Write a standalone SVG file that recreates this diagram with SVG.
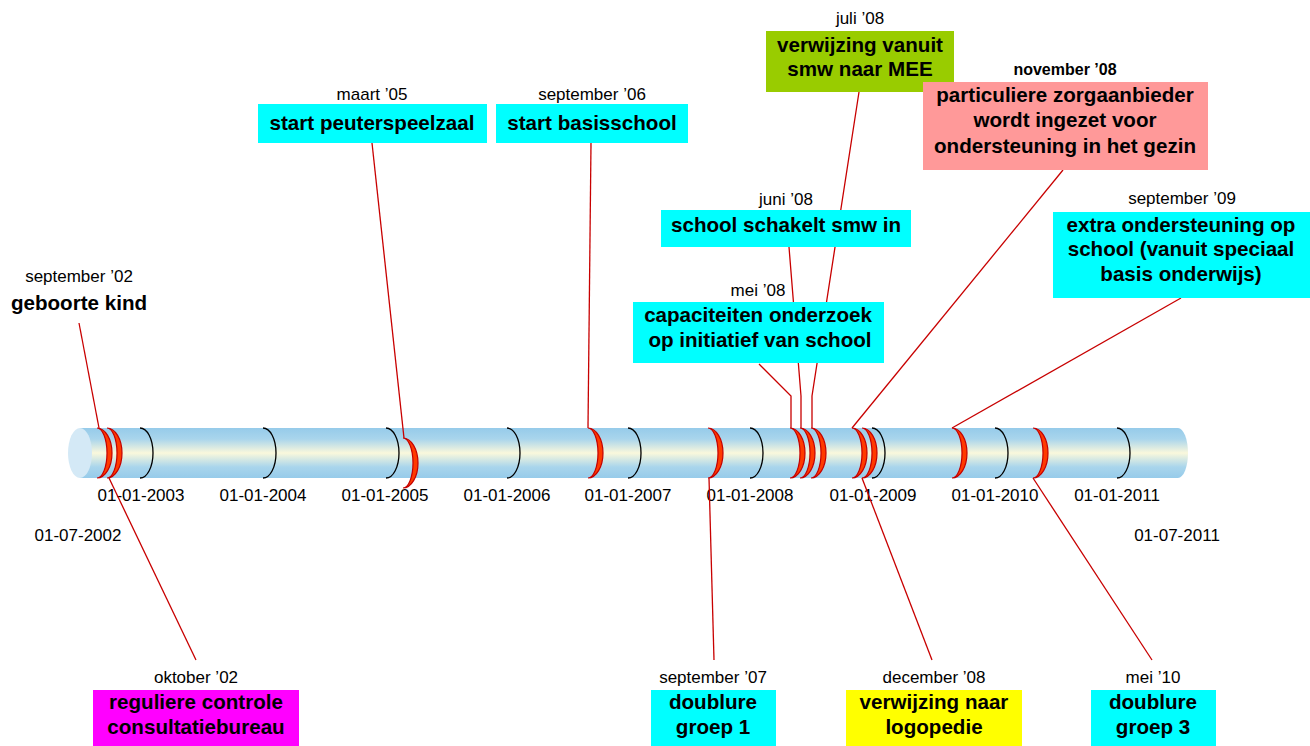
<svg xmlns="http://www.w3.org/2000/svg" xmlns:xlink="http://www.w3.org/1999/xlink" width="1310" height="746" viewBox="0 0 1310 746">
<style>
text{font-family:"Liberation Sans",Arial,sans-serif;fill:#000}
.date{font-size:17px;text-anchor:middle}
.axis{font-size:17px;text-anchor:middle}
.lbl{font-size:20.6px;font-weight:bold;text-anchor:middle}
.conn{stroke:#c80000;stroke-width:1.3;fill:none}
.ring{fill:#ff3a00;stroke:#c40000;stroke-width:1.2}
.tick{fill:none;stroke:#000;stroke-width:1.3}
.cyan{fill:#00ffff}
</style>
<defs>
<linearGradient id="body" x1="0" y1="0" x2="0" y2="1">
<stop offset="0" stop-color="#96cbea"/>
<stop offset="0.22" stop-color="#a9d5ec"/>
<stop offset="0.5" stop-color="#faf8dc"/>
<stop offset="0.78" stop-color="#a9d5ec"/>
<stop offset="1" stop-color="#96cbea"/>
</linearGradient>
<path id="redring" class="ring" d="M0,0 A15 25 0 0 1 0 50 A10 25 0 0 0 0 0 Z"/>
<path id="blackarc" class="tick" d="M0,0 A13 25 0 0 1 0 50"/>
</defs>

<g id="timeline">
<path d="M80,428 H1178 A10 25 0 0 1 1178 478 H80 Z" fill="url(#body)"/>
<ellipse cx="80" cy="453" rx="12" ry="25" fill="#d4e9f6"/>
<use xlink:href="#blackarc" x="140" y="428"/>
<use xlink:href="#blackarc" x="263" y="428"/>
<use xlink:href="#blackarc" x="386" y="428"/>
<use xlink:href="#blackarc" x="507" y="428"/>
<use xlink:href="#blackarc" x="628" y="428"/>
<use xlink:href="#blackarc" x="750" y="428"/>
<use xlink:href="#blackarc" x="872" y="428"/>
<use xlink:href="#blackarc" x="995" y="428"/>
<use xlink:href="#blackarc" x="1117" y="428"/>
<text class="axis" x="141" y="501">01-01-2003</text>
<text class="axis" x="263" y="501">01-01-2004</text>
<text class="axis" x="385" y="501">01-01-2005</text>
<text class="axis" x="507" y="501">01-01-2006</text>
<text class="axis" x="628" y="501">01-01-2007</text>
<text class="axis" x="750" y="501">01-01-2008</text>
<text class="axis" x="873" y="501">01-01-2009</text>
<text class="axis" x="995" y="501">01-01-2010</text>
<text class="axis" x="1117" y="501">01-01-2011</text>
<text class="axis" x="78" y="541">01-07-2002</text>
<text class="axis" x="1177" y="541">01-07-2011</text>
</g>

<g id="markers">
<use xlink:href="#redring" x="97" y="428"/>
<use xlink:href="#redring" x="107" y="428"/>
<use xlink:href="#redring" x="403" y="438"/>
<use xlink:href="#redring" x="588" y="428"/>
<use xlink:href="#redring" x="708" y="428"/>
<use xlink:href="#redring" x="790" y="428"/>
<use xlink:href="#redring" x="800" y="428"/>
<use xlink:href="#redring" x="811" y="428"/>
<use xlink:href="#redring" x="852" y="428"/>
<use xlink:href="#redring" x="862" y="428"/>
<use xlink:href="#redring" x="952" y="428"/>
<use xlink:href="#redring" x="1033" y="428"/>
</g>

<g id="connectors">
<line class="conn" x1="79" y1="323" x2="99" y2="428"/>
<line class="conn" x1="109" y1="478" x2="196" y2="660"/>
<line class="conn" x1="372" y1="143" x2="404" y2="438"/>
<line class="conn" x1="591" y1="143" x2="588" y2="428"/>
<line class="conn" x1="709" y1="478" x2="714" y2="660"/>
<polyline class="conn" points="759,364 791,396 791,428"/>
<polyline class="conn" points="789,247 801,396 801,428"/>
<polyline class="conn" points="859,92 812,396 812,428"/>
<line class="conn" x1="1063" y1="170" x2="852" y2="428"/>
<line class="conn" x1="862" y1="478" x2="932" y2="660"/>
<line class="conn" x1="1181" y1="298" x2="952" y2="428"/>
<line class="conn" x1="1033" y1="478" x2="1152" y2="660"/>
</g>

<g id="n-geboorte">
<text class="date" x="79" y="282">september ’02</text>
<text class="lbl" x="79" y="310">geboorte kind</text>
</g>

<g id="n-peuterspeelzaal">
<text class="date" x="372" y="100">maart ’05</text>
<rect class="cyan" x="258" y="104" width="229" height="39"/>
<text class="lbl" x="372" y="130">start peuterspeelzaal</text>
</g>

<g id="n-basisschool">
<text class="date" x="592" y="100">september ’06</text>
<rect class="cyan" x="496" y="104" width="192" height="39"/>
<text class="lbl" x="592" y="130">start basisschool</text>
</g>

<g id="n-mee">
<text class="date" x="860" y="24">juli ’08</text>
<rect x="766" y="31" width="188" height="61" fill="#99cc00"/>
<text class="lbl" x="860" y="52">verwijzing vanuit</text>
<text class="lbl" x="860" y="76">smw naar MEE</text>
</g>

<g id="n-zorgaanbieder">
<text class="date" x="1065" y="75" style="font-weight:bold;font-size:16px">november ’08</text>
<rect x="923" y="82" width="285" height="88" fill="#ff9999"/>
<text class="lbl" x="1065" y="102">particuliere zorgaanbieder</text>
<text class="lbl" x="1065" y="127">wordt ingezet voor</text>
<text class="lbl" x="1065" y="153">ondersteuning in het gezin</text>
</g>

<g id="n-smw">
<text class="date" x="786" y="205">juni ’08</text>
<rect class="cyan" x="661" y="210" width="250" height="37"/>
<text class="lbl" x="786" y="232">school schakelt smw in</text>
</g>

<g id="n-capaciteiten">
<text class="date" x="758" y="296">mei ’08</text>
<rect class="cyan" x="633" y="302" width="251" height="61"/>
<text class="lbl" x="758" y="322">capaciteiten onderzoek</text>
<text class="lbl" x="760" y="347">op initiatief van school</text>
</g>

<g id="n-extra">
<text class="date" x="1182" y="204">september ’09</text>
<rect class="cyan" x="1053" y="212" width="257" height="86"/>
<text class="lbl" x="1181" y="232">extra ondersteuning op</text>
<text class="lbl" x="1181" y="256">school (vanuit speciaal</text>
<text class="lbl" x="1181" y="281">basis onderwijs)</text>
</g>

<g id="n-consultatiebureau">
<text class="date" x="196" y="683">oktober ’02</text>
<rect x="93" y="690" width="206" height="56" fill="#ff00ff"/>
<text class="lbl" x="196" y="709">reguliere controle</text>
<text class="lbl" x="196" y="734">consultatiebureau</text>
</g>

<g id="n-doublure1">
<text class="date" x="713" y="683">september ’07</text>
<rect class="cyan" x="651" y="690" width="125" height="56"/>
<text class="lbl" x="713" y="709">doublure</text>
<text class="lbl" x="713" y="734">groep 1</text>
</g>

<g id="n-logopedie">
<text class="date" x="934" y="683">december ’08</text>
<rect x="846" y="690" width="176" height="56" fill="#ffff00"/>
<text class="lbl" x="934" y="709">verwijzing naar</text>
<text class="lbl" x="934" y="734">logopedie</text>
</g>

<g id="n-doublure3">
<text class="date" x="1153" y="683">mei ’10</text>
<rect class="cyan" x="1091" y="690" width="125" height="56"/>
<text class="lbl" x="1153" y="709">doublure</text>
<text class="lbl" x="1153" y="734">groep 3</text>
</g>
</svg>
